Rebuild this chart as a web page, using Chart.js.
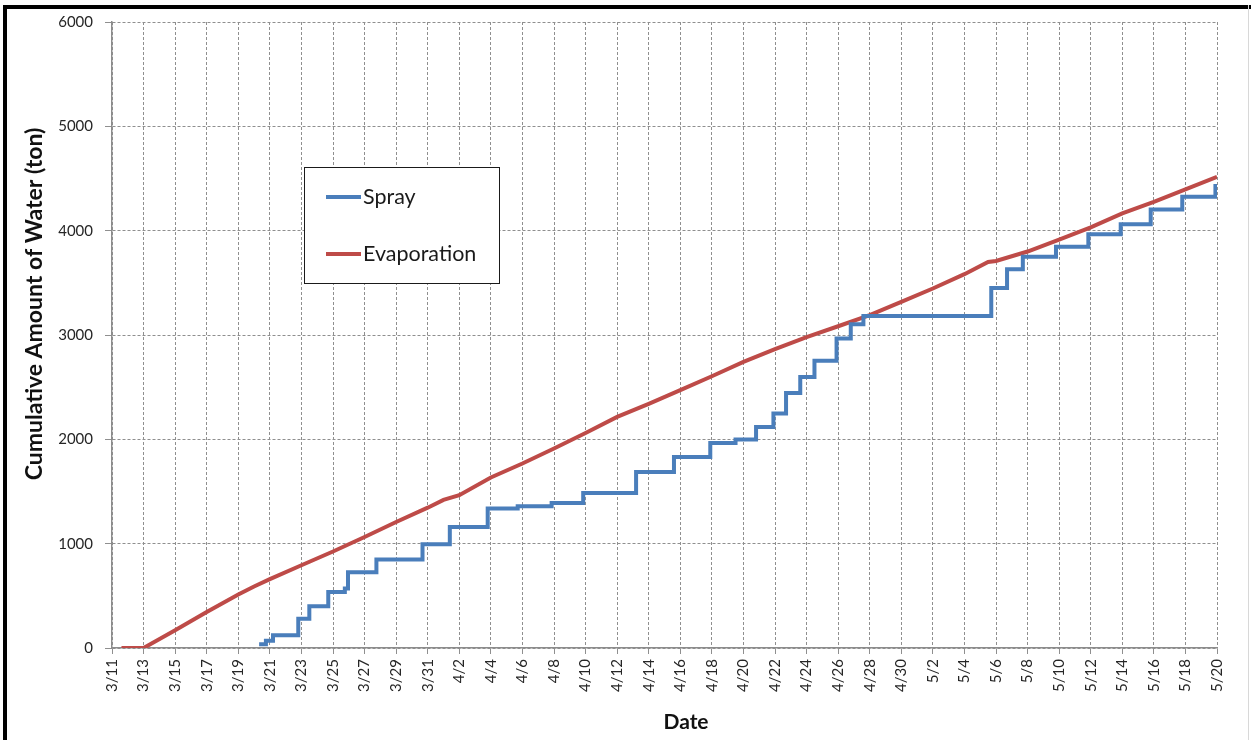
<!DOCTYPE html>
<html><head><meta charset="utf-8">
<script src="https://cdn.jsdelivr.net/npm/chart.js@4.4.1/dist/chart.umd.min.js"></script>
<style>html,body{margin:0;padding:0;background:#fff;overflow:hidden}canvas{display:block}</style>
</head><body>
<canvas id="c" width="1251" height="740"></canvas>
<script>
// Tick labels (one every 2 days, day 0 = 3/11)
const tickLabels = ['3/11','3/13','3/15','3/17','3/19','3/21','3/23','3/25','3/27','3/29','3/31',
  '4/2','4/4','4/6','4/8','4/10','4/12','4/14','4/16','4/18','4/20','4/22','4/24','4/26','4/28','4/30',
  '5/2','5/4','5/6','5/8','5/10','5/12','5/14','5/16','5/18','5/20'];
const yTicks = [0, 1000, 2000, 3000, 4000, 5000, 6000];

// Spray: day of each step (days since 3/11) and new cumulative value
const sprayDays = [9.32, 9.75, 10.2, 11.8, 12.5, 13.7, 14.75, 14.95, 16.75, 19.67, 21.4, 23.8, 25.7, 27.85, 29.85,
  33.2, 35.6, 37.9, 39.5, 40.8, 41.9, 42.7, 43.6, 44.5, 45.9, 46.8, 47.6, 55.7, 56.7, 57.7, 59.8, 61.85,
  63.9, 65.8, 67.8, 69.9, 70];
const sprayValues = [35, 70, 122, 280, 400, 537, 570, 725, 848, 994, 1160, 1336, 1358, 1390, 1486,
  1688, 1831, 1966, 1998, 2119, 2247, 2445, 2598, 2752, 2966, 3103, 3183, 3450, 3630, 3749, 3845, 3966,
  4062, 4203, 4324, 4427, 4427];

// Evaporation
const evapDays = [0.6, 2, 4, 6, 8, 9, 10, 12, 14, 16, 18, 20, 21, 22, 24, 26, 28, 30, 32, 34, 36, 38, 40,
  42, 44, 46, 48, 50, 52, 54, 55.5, 56, 58, 60, 62, 64, 66, 68, 70];
const evapValues = [0, 0, 170, 345, 512, 590, 660, 793, 925, 1064, 1208, 1345, 1420, 1464, 1634, 1768, 1912,
  2061, 2215, 2340, 2471, 2605, 2742, 2864, 2980, 3084, 3190, 3317, 3446, 3583, 3700, 3710, 3800, 3915,
  4031, 4165, 4276, 4395, 4516];

const seriesNames = ['Spray', 'Evaporation'];
const xTitle = 'Date';
const yTitle = 'Cumulative Amount of Water (ton)';

const pts = (xs, ys) => xs.map((x, i) => ({x: x, y: ys[i]}));

const overlay = {
  id: 'overlay',
  beforeDraw(chart) {
    const ctx = chart.ctx;
    ctx.save(); ctx.fillStyle = '#fff'; ctx.fillRect(0, 0, chart.width, chart.height); ctx.restore();
  },
  afterDraw(chart) {
    const ctx = chart.ctx;
    ctx.save();
    ctx.fillStyle = '#111';
    // y title
    ctx.save();
    ctx.translate(35, 304); ctx.rotate(-Math.PI / 2);
    ctx.font = 'bold 23px Lato'; ctx.textAlign = 'center'; ctx.textBaseline = 'middle';
    ctx.fillText(yTitle, 0, 0);
    ctx.restore();
    // x title
    ctx.font = 'bold 21px Lato'; ctx.textAlign = 'center'; ctx.textBaseline = 'middle';
    ctx.fillText(xTitle, 686, 722);
    // legend
    ctx.fillStyle = '#fff'; ctx.fillRect(304.5, 167.5, 195, 116);
    ctx.strokeStyle = '#1a1a1a'; ctx.lineWidth = 1; ctx.strokeRect(304.5, 167.5, 195, 116);
    const ds = chart.data.datasets;
    const ly = [197, 254];
    ds.forEach((d, i) => {
      ctx.strokeStyle = d.borderColor; ctx.lineWidth = 4;
      ctx.beginPath(); ctx.moveTo(326, ly[i]); ctx.lineTo(361, ly[i]); ctx.stroke();
      ctx.fillStyle = '#1a1a1a'; ctx.font = '21.5px Lato'; ctx.textAlign = 'left'; ctx.textBaseline = 'middle';
      ctx.fillText(d.label, 363, ly[i]);
    });
    // outer frame
    ctx.fillStyle = '#000';
    ctx.fillRect(3, 5, 4, 735);
    ctx.fillRect(3, 5, 1248, 4);
    ctx.fillStyle = '#d8d8d8';
    ctx.fillRect(1248, 5, 1, 735);
    ctx.restore();
  }
};

function build() {
  new Chart(document.getElementById('c'), {
    type: 'line',
    data: {
      datasets: [
        { label: seriesNames[0], data: pts(sprayDays, sprayValues), borderColor: '#4a7ebb', borderWidth: 4,
          stepped: 'before', pointRadius: 0, fill: false },
        { label: seriesNames[1], data: pts(evapDays, evapValues), borderColor: '#be4b48', borderWidth: 4,
          tension: 0, pointRadius: 0, fill: false }
      ]
    },
    options: {
      responsive: false,
      animation: false,
      layout: { padding: { top: 22, right: 34, bottom: 0, left: 0 } },
      plugins: { legend: { display: false }, tooltip: { enabled: false } },
      scales: {
        x: {
          type: 'linear', min: 0, max: 70, position: 'bottom',
          afterFit: s => { s.height = 92; },
          afterBuildTicks: s => { s.ticks = tickLabels.map((_, i) => ({value: i * 2})); },
          ticks: { autoSkip: false, minRotation: 90, maxRotation: 90, padding: 5,
            font: { family: 'Lato', size: 15 }, color: '#262626',
            callback: (v, i) => tickLabels[i] },
          grid: { color: '#8f8f8f', lineWidth: 1, tickLength: 6, tickColor: '#8f8f8f' },
          border: { display: true, color: '#8c8c8c', width: 1.5, dash: [3, 2] }
        },
        y: {
          min: 0, max: 6000,
          afterFit: s => { s.width = 112; },
          afterBuildTicks: s => { s.ticks = yTicks.map(v => ({value: v})); },
          ticks: { padding: 12, font: { family: 'Lato', size: 15 }, color: '#262626',
            callback: v => String(v) },
          grid: { color: '#8f8f8f', lineWidth: 1, tickLength: 7, tickColor: '#8f8f8f' },
          border: { display: true, color: '#8c8c8c', width: 1.5, dash: [3, 2] }
        }
      }
    },
    plugins: [overlay]
  });
}
Promise.all([document.fonts.load('15px Lato'), document.fonts.load('bold 23px Lato'), document.fonts.load('21px Lato')])
  .then(build, build);
</script>
</body></html>
